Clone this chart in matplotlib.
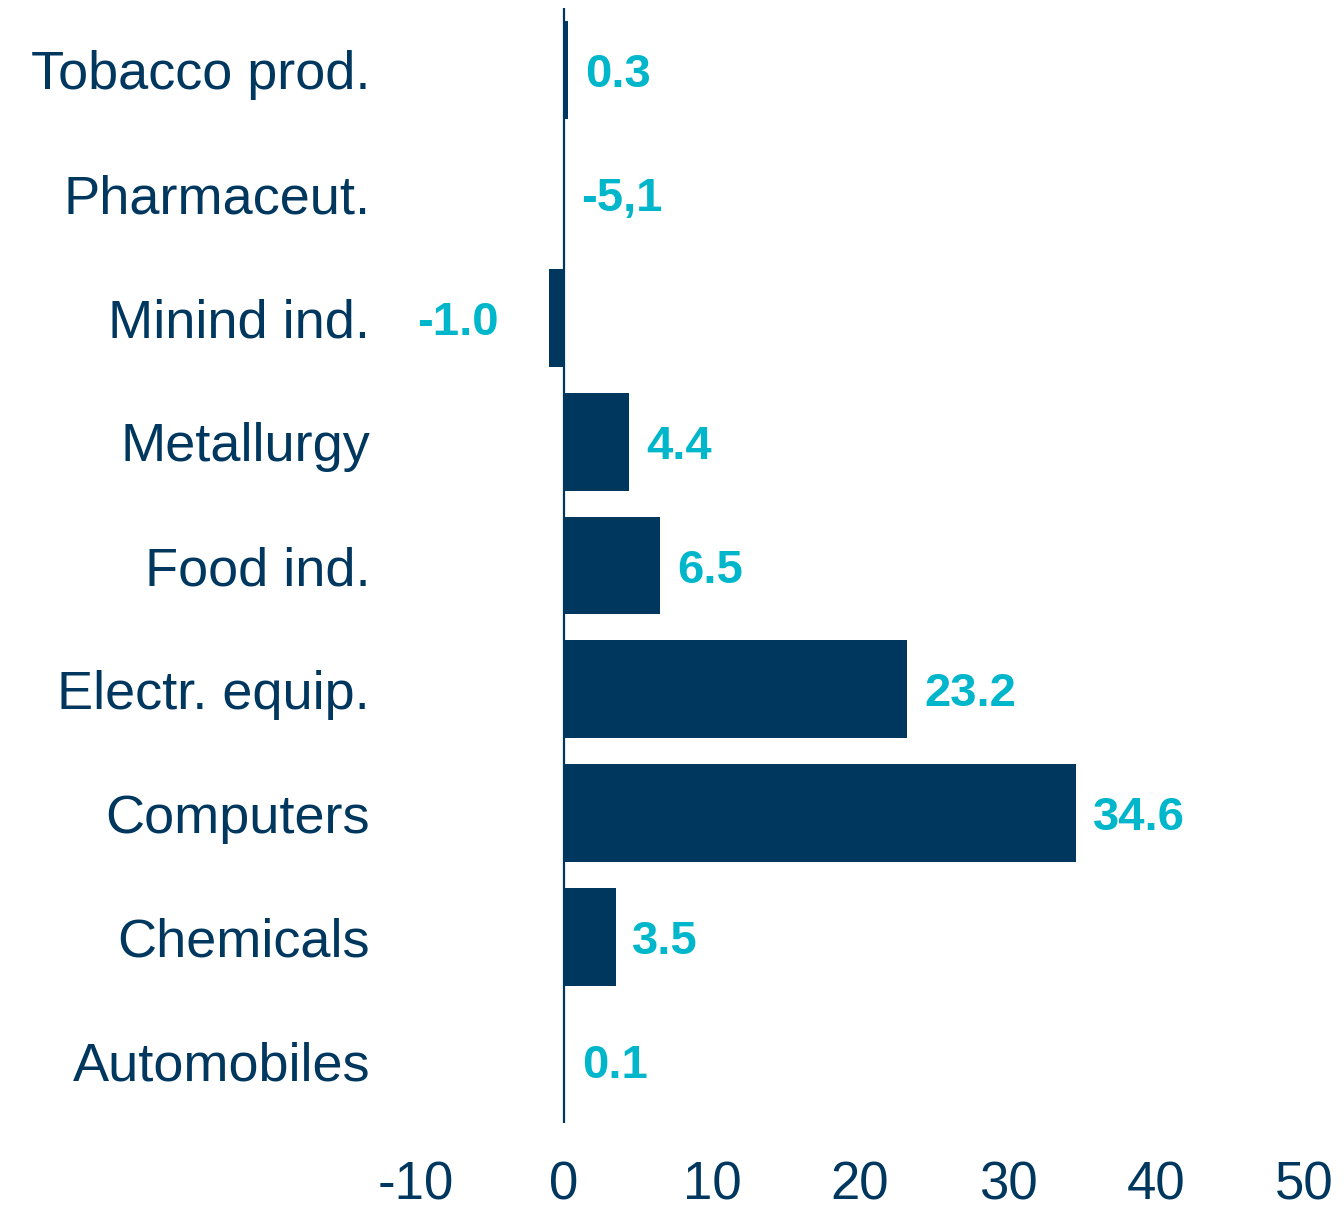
import matplotlib
matplotlib.use("Agg")
import matplotlib.pyplot as plt

# Output growth by industry (top to bottom)
categories = ["Tobacco prod.", "Pharmaceut.", "Minind ind.", "Metallurgy", "Food ind.",
              "Electr. equip.", "Computers", "Chemicals", "Automobiles"]
values = [0.3, 0.0, -1.0, 4.4, 6.5, 23.2, 34.6, 3.5, 0.1]
value_labels = ["0.3", "-5,1", "-1.0", "4.4", "6.5", "23.2", "34.6", "3.5", "0.1"]
x_ticks = [-10, 0, 10, 20, 30, 40, 50]

NAVY = "#00375f"
CYAN = "#00b6cb"
plt.rcParams["font.family"] = ["Liberation Sans", "DejaVu Sans"]

fig = plt.figure(figsize=(13.44, 12.09), dpi=100)
ax = fig.add_axes([416 / 1344, 1 - 1123 / 1209, 888 / 1344, 1115 / 1209])

pos = list(range(len(categories)))
ax.barh(pos, values, height=0.79, color=NAVY)
ax.set_ylim(len(categories) - 0.5, -0.5)
ax.set_xlim(-10, 50)
ax.axvline(0, color=NAVY, lw=1.6)

for p, v, t in zip(pos, values, value_labels):
    if v < 0:
        ax.annotate(t, (v, p), xytext=(-36, 0), textcoords="offset points",
                    ha="right", va="center_baseline", fontsize=34, fontweight="bold", color=CYAN)
    else:
        ax.annotate(t, (v, p), xytext=(12, 0), textcoords="offset points",
                    ha="left", va="center_baseline", fontsize=34, fontweight="bold", color=CYAN)

ax.set_yticks(pos)
ax.set_yticklabels(categories, fontsize=39, color=NAVY)
ax.set_xticks(x_ticks)
ax.set_xticklabels([str(t) for t in x_ticks], fontsize=38, color=NAVY)
ax.tick_params(axis="y", length=0, pad=33)
ax.tick_params(axis="x", length=0, pad=27)
for s in ax.spines.values():
    s.set_visible(False)

fig.savefig("out.png", dpi=100, facecolor="white")
